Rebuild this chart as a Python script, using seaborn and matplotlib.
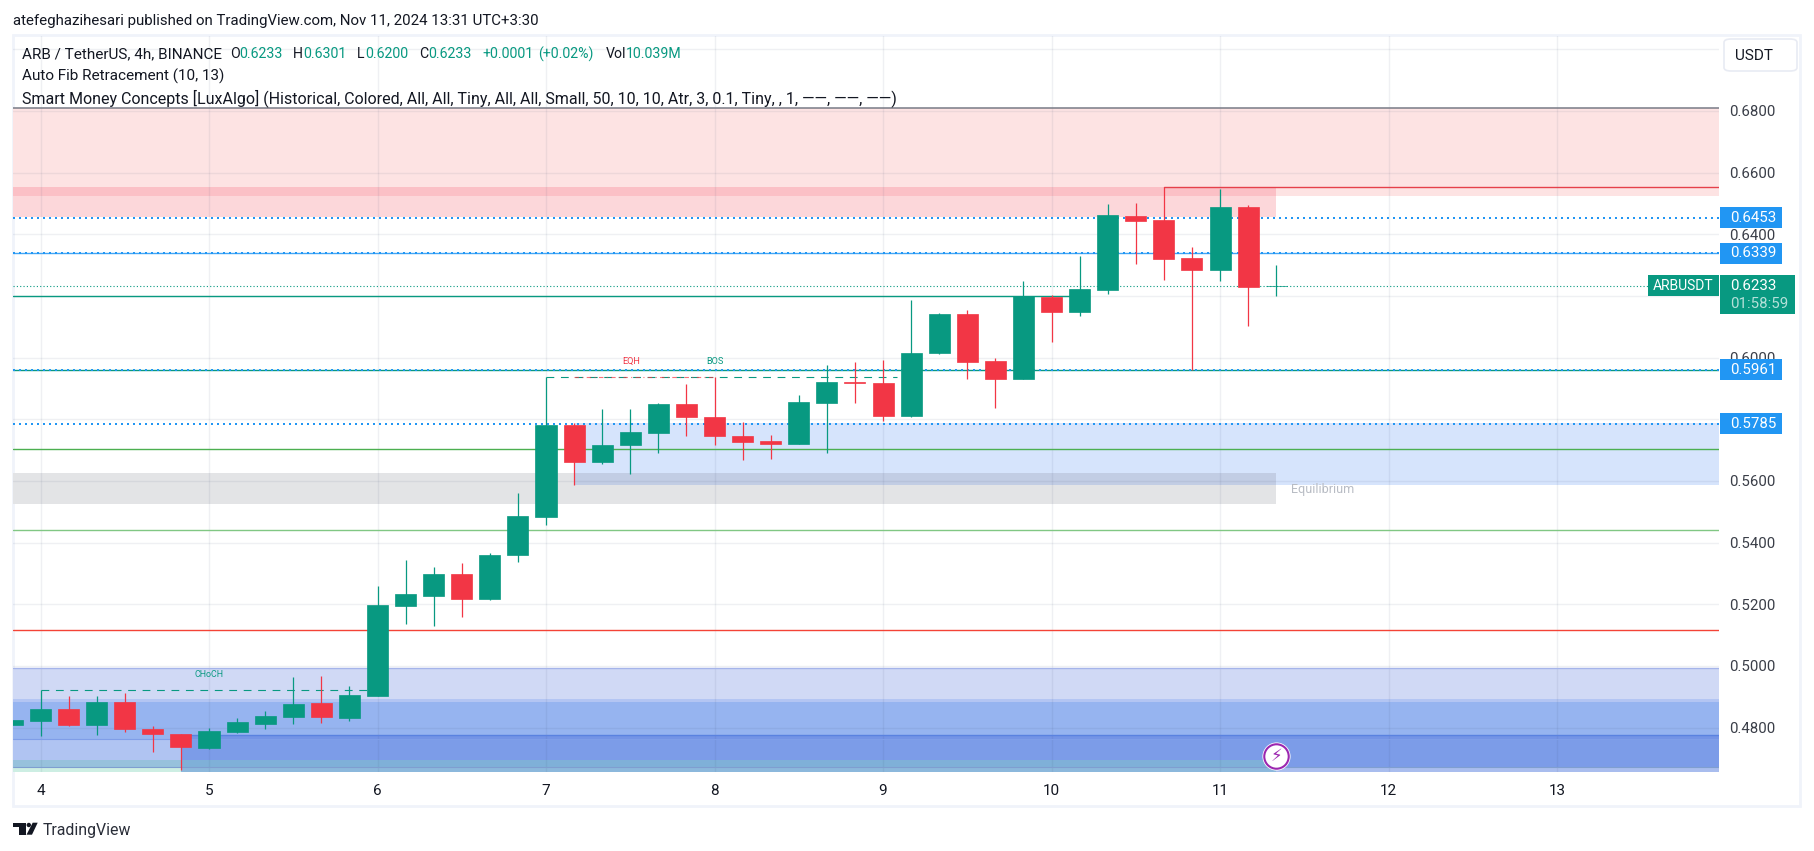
import pandas as pd
import seaborn as sns
import matplotlib.pyplot as plt
from matplotlib.patches import Rectangle, Polygon, Circle, FancyBboxPatch

# candles, 4h bars, first one is clipped by the left edge
opens = [.4808, .4822, .4861, .4810, .4883, .4797, .4778, .4733, .4787, .4813, .4835, .4880, .4832,
         .4903, .5195, .5227, .5298, .5217, .5360, .5483, .5780, .5662, .5715, .5757, .5851, .5808,
         .5747, .5729, .5719, .5852, .5920, .5917, .5810, .6015, .6142, .5990, .5930, .6197, .6148,
         .6219, .6459, .6446, .6323, .6284, .6489, .6232]
highs = [.4826, .4921, .4903, .4903, .4912, .4806, .4778, .4800, .4832, .4855, .4964, .4967, .4935,
         .5259, .5344, .5321, .5334, .5366, .5561, .5938, .5788, .5832, .5832, .5852, .5914, .5938,
         .5790, .5748, .5878, .5975, .5985, .5991, .6187, .6145, .6155, .6000, .6249, .6203, .6330,
         .6498, .6502, .6552, .6359, .6547, .6495, .6301]
lows = [.4808, .4772, .4806, .4775, .4785, .4720, .4662, .4729, .4784, .4794, .4813, .4816, .4822,
        .4903, .5136, .5130, .5159, .5214, .5337, .5457, .5587, .5655, .5624, .5692, .5745, .5716,
        .5667, .5670, .5719, .5690, .5852, .5794, .5806, .6012, .5931, .5836, .5930, .6051, .6135,
        .6206, .6304, .6252, .5960, .6249, .6103, .6200]
closes = [.4826, .4861, .4810, .4883, .4794, .4778, .4736, .4790, .4819, .4838, .4877, .4835, .4906,
          .5198, .5234, .5298, .5217, .5360, .5486, .5780, .5660, .5718, .5760, .5851, .5806, .5745,
          .5725, .5720, .5855, .5920, .5917, .5810, .6016, .6142, .5987, .5930, .6200, .6148, .6223,
          .6463, .6443, .6320, .6284, .6489, .6230, .6233]
first_bar = -1

day_ticks = [4, 5, 6, 7, 8, 9, 10, 11, 12, 13]
price_grid = [.48, .50, .52, .54, .56, .58, .60, .62, .64, .66, .68, .70]
price_labels = ['0.4800', '0.5000', '0.5200', '0.5400', '0.5600', '', '0.6000', '', '0.6400', '0.6600', '0.6800', '']
fib_levels = [.6453, .6339, .5961, .5785]
fib_labels = ['0.6453', '0.6339', '0.5961', '0.5785']
last_price = .6233

GREEN = '#089981'
RED = '#f23645'
BLUE = '#2196f3'
INK = '#131722'
W, H = 1814, 851

sns.set_theme(style='white')
plt.rcParams['font.family'] = ['Roboto', 'DejaVu Sans']

fig = plt.figure(figsize=(W / 100, H / 100), dpi=100, facecolor='white')
ax = fig.add_axes([13 / W, 1 - 772 / H, (1719 - 13) / W, (772 - 36) / H])
x0, x1 = 3.8368, 13.961
y0, y1 = .4656, .7043
per_px = (y1 - y0) / (772 - 36)


def bar_x(i):
    return 4 + i / 6


def band(xa, xb, lo, hi, color, z=1):
    ax.fill_between([xa, xb], lo, hi, color=color, lw=0, zorder=z)


# zones
band(x0, x1, .6525, .6808, '#fde3e3')
band(x0, bar_x(44), .6457, .6525, '#fcd7da')
band(x0, bar_x(44), .6525, .6552, '#fbc0c6')
band(bar_x(19), x1, .5588, .5788, '#d6e4fc')
band(x0, bar_x(19), .5525, .5626, '#e3e4e6')
band(bar_x(19), bar_x(44), .5588, .5626, '#c2cde4')
band(bar_x(19), bar_x(44), .5525, .5588, '#e3e4e6')

xb, xc = bar_x(5), bar_x(44)
band(x0, x1, .4892, .4993, '#d0d9f5')
band(x0, x1, .4882, .4892, '#b3c5f3')
band(x0, x1, .4776, .4882, '#96b4f0')
band(x0, xb, .4762, .4776, '#96b4f0')
band(xb, x1, .4762, .4776, '#7494e6')
band(x0, xb, .4695, .4762, '#b0c4f2')
band(xb, x1, .4695, .4762, '#7c9ce8')
band(x0, xb, .4671, .4695, '#97c1dc')
band(xb, xc, .4671, .4695, '#7fb0d8')
band(xc, x1, .4671, .4695, '#7c9ce8')
band(x0, xb, y0, .4671, '#cdeee3')
band(xb, xc, y0, .4671, '#8cb8dc')
band(xc, x1, y0, .4671, '#a9bdee')

# grid goes over the zones
for d in day_ticks:
    ax.axvline(d, color='#3a4a70', alpha=.08, lw=1, zorder=2)
for p in price_grid:
    ax.axhline(p, color='#3a4a70', alpha=.08, lw=1, zorder=2)

# levels
ax.axhline(.6808, color='#787b86', lw=1.1, zorder=3)
ax.plot([bar_x(40), x1], [.6552, .6552], color='#e5404a', lw=1, zorder=3)
ax.plot([x0, bar_x(37)], [.6200, .6200], color=GREEN, lw=1, zorder=3)
ax.axhline(.5961, color=GREEN, lw=1, zorder=3)
ax.axhline(.6339, color='#42a5f5', lw=1, zorder=3)
ax.axhline(.5705, color='#4caf50', lw=1, zorder=3)
ax.axhline(.5440, color='#81c784', lw=1, zorder=3)
ax.axhline(.5116, color='#f44336', lw=1, zorder=3)
ax.axhline(.4993, color='#a5b4ea', lw=1, zorder=3)
ax.plot([xb, x1], [.4776, .4776], color='#5a82e0', lw=1, zorder=3)
ax.axhline(.4762, color='#7f9ee8', lw=.8, zorder=3)
ax.axhline(.4671, color='#7f9ed0', lw=.8, zorder=3)
for p in fib_levels:
    ax.axhline(p, color=BLUE, lw=1.44, ls=(0, (1, 2)), zorder=3)
ax.axhline(last_price, color=GREEN, lw=.8, ls=(0, (1, 2)), zorder=3)

# structure lines
ax.plot([bar_x(0), bar_x(12)], [.4921, .4921], color=GREEN, lw=.8, ls=(0, (7, 6)), zorder=3)
ax.plot([bar_x(18), bar_x(30.5)], [.5938, .5938], color=GREEN, lw=.8, ls=(0, (7, 6)), zorder=3)
ax.plot([bar_x(19), bar_x(24)], [.5938, .5938], color=RED, lw=.8, ls=(0, (4, 3, 1, 3)), alpha=.7, zorder=3)
ax.text(5, .4973, 'CHoCH', color=GREEN, fontsize=6.4, ha='center', va='center', zorder=4)
ax.text(7.503, .5988, 'EQH', color=RED, fontsize=6.6, ha='center', va='center', zorder=4)
ax.text(8.003, .5988, 'BOS', color=GREEN, fontsize=6.6, ha='center', va='center', zorder=4)
ax.text(11.42, .5572, 'Equilibrium', color='#b8bcc4', fontsize=9, ha='left', va='center', zorder=4)

# candles
df = pd.DataFrame({'open': opens, 'high': highs, 'low': lows, 'close': closes})
df['day'] = [bar_x(i + first_bar) for i in range(len(df))]
df['bottom'] = df[['open', 'close']].min(axis=1)
df['size'] = (df['close'] - df['open']).abs()
df['up'] = df['close'] >= df['open']

for is_up, color in [(True, GREEN), (False, RED)]:
    part = df[df['up'] == is_up]
    ax.vlines(part['day'], part['low'], part['high'], color=color, lw=.9, zorder=5)
    sns.barplot(data=part, x='day', y='size', bottom=part['bottom'].values, native_scale=True, color=color,
                saturation=1, errorbar=None, width=.75, linewidth=.5, edgecolor=color, zorder=6, ax=ax)

# purple alert icon
ax.scatter([bar_x(44)], [.4709], s=410, color='white', zorder=7, lw=0)
ax.scatter([bar_x(44)], [.4709], s=310, facecolor='white', edgecolor='#9c27b0', lw=1.5, zorder=8)
ax.text(bar_x(44), .4709, '\u26a1', family='DejaVu Sans', color='#9c27b0', fontsize=12, ha='center', va='center', zorder=9)

ax.set_xlim(x0, x1)
ax.set_ylim(y0, y1)
ax.set_xlabel('')
ax.set_ylabel('')
ax.set_xticks(day_ticks)
ax.set_xticklabels([str(d) for d in day_ticks])
ax.yaxis.tick_right()
ax.set_yticks(price_grid)
ax.set_yticklabels(price_labels)
ax.tick_params(axis='x', length=0, pad=8.5, labelsize=11, labelcolor=INK)
ax.tick_params(axis='y', length=0, pad=7.5, labelsize=10.8, labelcolor='#3a3e48')
for s in ax.spines.values():
    s.set_visible(False)
ax.patch.set_alpha(0)

# price axis tags
ytr = ax.get_yaxis_transform()
ax_w = 1719 - 13


def tag(price, text, color, left, width, height, center=None, size=10.8):
    c = price if center is None else center
    ax.add_patch(Rectangle((1 + left / ax_w, c - height * per_px / 2), width / ax_w, height * per_px,
                           transform=ytr, color=color, lw=0, clip_on=False, zorder=20))
    ax.text(1 + (left + 10 if left > 0 else left + width / 2) / ax_w, price, text, transform=ytr, color='white',
            fontsize=size, ha='left' if left > 0 else 'center', va='center', clip_on=False, zorder=21)


for p, lab in zip(fib_levels, fib_labels):
    tag(p, lab, BLUE, 1, 62, 21)
tag(last_price, 'ARBUSDT', GREEN, -71, 71, 21, size=10)
tag(last_price, '0.6233', GREEN, 1, 75, 39, center=last_price - 9 * per_px)
ax.text(1 + 11 / ax_w, last_price - 18.5 * per_px, '01:58:59', transform=ytr, color='white', alpha=.7, fontsize=10.8,
        ha='left', va='center', clip_on=False, zorder=21)


# page furniture, in pixels
def ptext(x, y, s, color=INK, size=11, **kw):
    fig.text(x / W, 1 - y / H, s, color=color, fontsize=size, ha='left', va='center', **kw)


def px_tr(x, y):
    return x / W, 1 - y / H


fig.add_artist(Rectangle(px_tr(13, 806), (1800 - 13) / W, (806 - 35) / H, transform=fig.transFigure,
                         fill=False, edgecolor='#f0f3fa', lw=2, zorder=0))
fig.add_artist(FancyBboxPatch(px_tr(1724, 71), 73 / W, 32 / H, boxstyle='round,pad=0,rounding_size=0.004',
                              transform=fig.transFigure, facecolor='white', edgecolor='#e8ebf3', lw=1.2))
ptext(1735, 56, 'USDT', size=11)

ptext(13, 20.5, 'atefeghazihesari published on TradingView.com, Nov 11, 2024 13:31 UTC+3:30', size=10.8)
row = 54.5
ptext(22, row, 'ARB / TetherUS, 4h, BINANCE')
for x, s, c in [(230, 'O', INK), (239, '0.6233', GREEN), (293, 'H', INK), (303, '0.6301', GREEN), (357, 'L', INK),
                (365, '0.6200', GREEN), (419, 'C', INK), (428, '0.6233', GREEN), (482, '+0.0001', GREEN),
                (538, '(+0.02%)', GREEN), (606, 'Vol', INK), (626, '10.039M', GREEN)]:
    ptext(x, row, s, color=c, size=10.2)
ptext(22, 76, 'Auto Fib Retracement (10, 13)')
ptext(22, 98, 'Smart Money Concepts [LuxAlgo] (Historical, Colored, All, All, Tiny, All, All, Small, '
      '50, 10, 10, Atr, 3, 0.1, Tiny, , 1, \u2014\u2014, \u2014\u2014, \u2014\u2014)', size=11.5)

# TradingView logo
logo = [[(13, 822.7), (26, 822.7), (26, 834.7), (19.3, 834.7), (19.3, 827.3), (13, 827.3)],
        [(32.7, 822.7), (37.7, 822.7), (32, 834.7), (26.5, 834.7)]]
for pts in logo:
    fig.add_artist(Polygon([px_tr(*q) for q in pts], transform=fig.transFigure, color=INK, lw=0))
fig.add_artist(Circle((28.8, H - 825), 2.2, transform=None, color=INK, lw=0))
ptext(42.7, 830, 'TradingView', color='#2a2e39', size=11.4)

fig.savefig('out.png', dpi=100)
